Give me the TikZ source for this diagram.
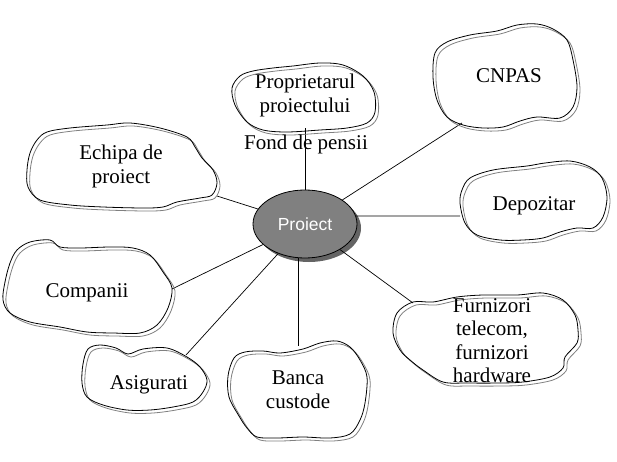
\documentclass[tikz,border=0pt]{standalone}
\usepackage{fontspec}
\setmainfont{Liberation Serif}
\newfontfamily\arialfont{Liberation Sans}
\usetikzlibrary{shapes.geometric,shadows}
\newcommand{\mycloud}[1]{%
  \draw[cloudshadow, shift={(3,3)}] plot[smooth cycle, tension=0.55] coordinates {#1};
  \draw[cloudline] plot[smooth cycle, tension=0.55] coordinates {#1};
}
\begin{document}
\begin{tikzpicture}[x=1pt,y=-1pt,
  cloudline/.style={draw=black, line width=0.8pt},
  cloudshadow/.style={draw=gray, line width=0.8pt},
  conn/.style={draw=black, line width=0.7pt},
  lbl/.style={inner sep=0pt, font=\fontsize{21}{23.5}\selectfont, align=center},
  hub/.style={ellipse, draw=black, line width=0.8pt, fill={rgb,255:red,128;green,128;blue,128},
    minimum width=104, minimum height=68, inner sep=0pt, text=white,
    font=\arialfont\fontsize{17.5}{20}\selectfont,
    drop shadow={shadow xshift=4pt, shadow yshift=-4pt, fill={rgb,255:red,100;green,100;blue,100}, opacity=1}}
]
\useasboundingbox[fill=white] (0,0) rectangle (617,462);

% hub
\node[hub] (proiect) at (305,224) {Proiect};

% connector ends
\coordinate (cProp) at (305,128);
\coordinate (cCNPAS) at (462,123);
\coordinate (cEchipa) at (217,196);
\coordinate (cDep) at (460,216);
\coordinate (cComp) at (172,289);
\coordinate (cAsig) at (186,355);
\coordinate (cBanca) at (298,346);
\coordinate (cFurn) at (413,303);

% connectors
\draw[conn] (proiect.north) -- (cProp);
\draw[conn] (proiect) -- (cCNPAS);
\draw[conn] (proiect) -- (cEchipa);
\draw[conn] (proiect.9) -- (cDep);
\draw[conn] (proiect) -- (cComp);
\draw[conn] (proiect) -- (cAsig);
\draw[conn] (proiect.south -| cBanca) -- (cBanca);
\draw[conn] (proiect) -- (cFurn);

% clouds
% Proprietarul
\mycloud{(232,88) (240,76) (253,71) (273,68) (293,66) (320,63) (343,65) (363,76) (374,92) (375,112) (367,123) (347,128) (320,130) (287,132) (263,130) (247,122) (235,105)}
% CNPAS
\mycloud{(435,53) (447,42) (470,35) (497,31) (517,25) (537,24) (553,29) (567,40) (573,60) (577,87) (573,107) (560,118) (537,117) (520,121) (503,127) (483,128) (463,125) (447,117) (437,100) (433,77)}
% Echipa
\mycloud{(37,140) (47,132) (70,128) (107,125) (130,123) (160,128) (187,137) (195,147) (202,158) (213,170) (217,183) (212,195) (200,198) (177,202) (163,207) (143,208) (103,207) (70,205) (40,200) (28,187) (27,170) (30,153)}
% Depozitar
\mycloud{(470,178) (493,170) (527,166) (545,163) (570,161) (590,167) (602,178) (607,197) (603,217) (593,228) (577,228) (560,232) (543,238) (523,240) (500,240) (477,235) (465,223) (460,203) (462,190)}
% Companii
\mycloud{(17,250) (30,242) (50,240) (60,247) (80,248) (110,247) (133,248) (150,255) (163,272) (172,288) (168,308) (157,325) (140,333) (113,333) (87,332) (60,327) (30,322) (10,313) (3,300) (5,282) (10,263)}
% Asigurati
\mycloud{(88,349) (100,345) (116,348) (128,354) (143,349) (167,348) (187,357) (200,367) (207,380) (203,392) (193,402) (173,407) (150,410) (127,410) (103,405) (87,397) (82,383) (83,364)}
% Banca
\mycloud{(234,358) (245,352) (263,351) (280,353) (303,349) (320,343) (337,341) (350,347) (360,360) (367,377) (365,403) (360,420) (350,434) (330,438) (303,437) (277,438) (257,437) (247,428) (239,416) (229,397) (228,376)}
% Furnizori
\mycloud{(397,313) (413,302) (433,302) (457,297) (483,295) (517,295) (543,293) (563,300) (575,315) (578,330) (577,343) (565,357) (563,368) (550,377) (523,382) (500,383) (467,383) (443,382) (423,370) (410,360) (400,350) (393,333)}

% labels
\node[lbl] (tProp) at (305,95.5) {Proprietarul\\proiectului};
\node[lbl, anchor=base] (tFond) at (306,150) {Fond de pensii};
\node[lbl, anchor=base] (tCNPAS) at (509,83) {CNPAS};
\node[lbl] (tEchipa) at (121,166.5) {Echipa de\\proiect};
\node[lbl, anchor=base] (tDep) at (534,210) {Depozitar};
\node[lbl, anchor=base] (tComp) at (87,297) {Companii};
\node[lbl, anchor=base] (tAsig) at (149,389) {Asigurati};
\node[lbl] (tBanca) at (298,389.5) {Banca\\custode};
\node[lbl] (tFurn) at (492,340.7) {Furnizori\\telecom,\\furnizori\\hardware};
\end{tikzpicture}
\end{document}
